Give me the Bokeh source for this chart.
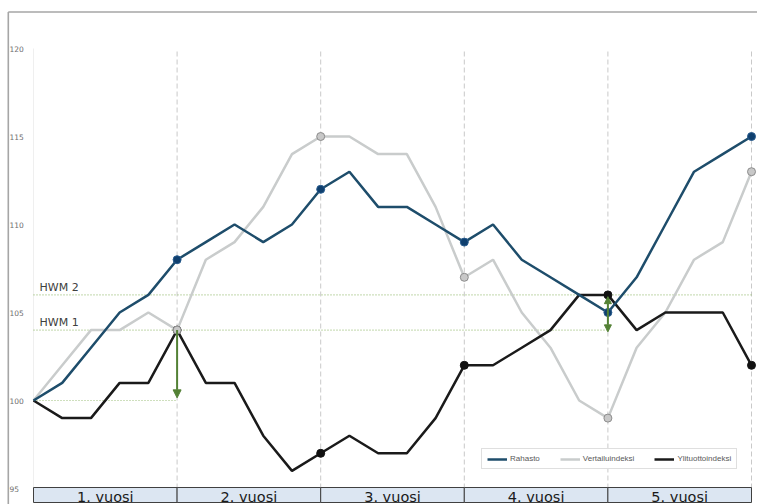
from bokeh.plotting import figure
from bokeh.models import Range1d, Legend, LegendItem, Arrow, NormalHead
from bokeh.core.properties import value
from bokeh.embed import file_html
from bokeh.resources import INLINE

# ---- data ----
steps = list(range(26))
rahasto = [100, 101, 103, 105, 106, 108, 109, 110, 109, 110, 112, 113, 111, 111, 110,
           109, 110, 108, 107, 106, 105, 107, 110, 113, 114, 115]
vertailu = [100, 102, 104, 104, 105, 104, 108, 109, 111, 114, 115, 115, 114, 114, 111,
            107, 108, 105, 103, 100, 99, 103, 105, 108, 109, 113]
ylituotto = [100, 99, 99, 101, 101, 104, 101, 101, 98, 96, 97, 98, 97, 97, 99,
             102, 102, 103, 104, 106, 106, 104, 105, 105, 105, 102]
years = ["1. vuosi", "2. vuosi", "3. vuosi", "4. vuosi", "5. vuosi"]
year_len = 5
y_ticks = [95, 100, 105, 110, 115, 120]
y_tick_labels = ["95", "100", "105", "110", "115", "120"]
hwm_labels = ["HWM 1", "HWM 2"]
hwm_levels = [104, 106]
hwm_end = [20, 25]
start_level = 100

# ---- layout constants (pixels) ----
W, H = 757, 504
X0_PX, X_STEP = 33.0, 28.72
Y100_PX, Y_UNIT = 400.0, 17.6

def xd(px):
    return (px - X0_PX) / X_STEP

def yd(py):
    return 100 + (Y100_PX - py) / Y_UNIT

p = figure(width=W, height=H, output_backend="svg", toolbar_location=None,
           x_range=Range1d(xd(0), xd(W)), y_range=Range1d(yd(H), yd(0)),
           x_axis_location=None, y_axis_location=None, min_border=0)
p.grid.visible = False
p.outline_line_color = None
p.background_fill_color = "white"
p.border_fill_color = "white"

# outer chart border (left + top)
p.line([xd(7.8), xd(7.8)], [yd(H), yd(11.5)], line_color="#A6A6A6", line_width=1.6)
p.line([xd(7.8), xd(W)], [yd(11.5), yd(11.5)], line_color="#A6A6A6", line_width=1.6)

bounds = [i * year_len for i in range(len(years) + 1)]
ymin, ymax = min(y_ticks), max(y_ticks)

# faint axis line at x=0
p.segment(x0=[bounds[0]], y0=[ymin], x1=[bounds[0]], y1=[ymax], line_color="#EFEFEF", line_width=1)
# dashed year separators
p.segment(x0=bounds[1:], y0=[ymin] * 5, x1=bounds[1:], y1=[ymax] * 5,
          line_color="#C9C9C9", line_width=1, line_dash="5 3")

# HWM dotted lines
green_dot = "#9CBF7A"
p.segment(x0=[0, 0], y0=hwm_levels, x1=hwm_end, y1=hwm_levels,
          line_color=green_dot, line_width=1.2, line_dash="1 2")
p.segment(x0=[0], y0=[start_level], x1=[year_len], y1=[start_level],
          line_color=green_dot, line_width=1.2, line_dash="1 2")
p.text(x=[0, 0], y=hwm_levels, text=hwm_labels, x_offset=6, y_offset=-1,
       text_baseline="bottom", text_align="left", text_font=value("DejaVu Sans"),
       text_font_size="11px", text_color="#404040")

# y tick labels
p.text(x=[xd(9)] * len(y_ticks), y=y_ticks, text=y_tick_labels, text_align="left",
       text_baseline="middle", text_font=value("DejaVu Sans"), text_font_size="7.5px",
       text_color="#6E6E6E")

# series lines
r_v = p.line(steps, vertailu, line_color="#C9CCCC", line_width=2.5)
r_y = p.line(steps, ylituotto, line_color="#1A1A1A", line_width=2.5)
r_r = p.line(steps, rahasto, line_color="#1E4D6B", line_width=2.5)

# markers at year ends
mk = bounds[1:]
p.scatter(mk, [ylituotto[i] for i in mk], size=8, fill_color="#111111", line_color="#111111")
p.scatter(mk, [vertailu[i] for i in mk], size=8, fill_color="#C8C8C8", line_color="#8C8C8C", line_width=1)
p.scatter(mk, [rahasto[i] for i in mk], size=8, fill_color="#0F3F6E", line_color="#2A5D8F", line_width=1)

# arrows
green = "#538135"
p.add_layout(Arrow(end=NormalHead(size=8, fill_color=green, line_color=green),
                   x_start=year_len, y_start=hwm_levels[0], x_end=year_len, y_end=start_level + 0.15,
                   line_color=green, line_width=2))
p.add_layout(Arrow(start=NormalHead(size=7, fill_color=green, line_color=green),
                   end=NormalHead(size=7, fill_color=green, line_color=green),
                   x_start=hwm_end[0], y_start=hwm_levels[1] - 0.1, x_end=hwm_end[0], y_end=hwm_levels[0] - 0.1,
                   line_color=green, line_width=2))

# year boxes
box_top, box_bot = yd(487), yd(502)
p.quad(left=bounds[:-1], right=bounds[1:], top=[box_top] * 5, bottom=[box_bot] * 5,
       fill_color="#DCE6F2", line_color="#404040", line_width=1)
p.text(x=[b + year_len / 2 for b in bounds[:-1]], y=[yd(496)] * 5, text=years,
       text_align="center", text_baseline="middle", text_font=value("DejaVu Sans"),
       text_font_size="14.5px", text_color="#1A1A1A")

# legend
legend = Legend(items=[LegendItem(label="Rahasto", renderers=[r_r]),
                       LegendItem(label="Vertailuindeksi", renderers=[r_v]),
                       LegendItem(label="Ylituottoindeksi", renderers=[r_y])],
                orientation="horizontal", location=(481, 35))
legend.label_text_font = "Liberation Sans"
legend.label_text_font_size = "8px"
legend.label_text_color = "#595959"
legend.glyph_width = 20
legend.glyph_height = 8
legend.label_height = 8
legend.label_standoff = 3
legend.padding = 5
legend.spacing = 20
legend.margin = 0
legend.border_line_color = "#BFBFBF"
legend.background_fill_color = "white"
legend.background_fill_alpha = 1
p.add_layout(legend)

open("out.html", "w").write(file_html(p, INLINE))
